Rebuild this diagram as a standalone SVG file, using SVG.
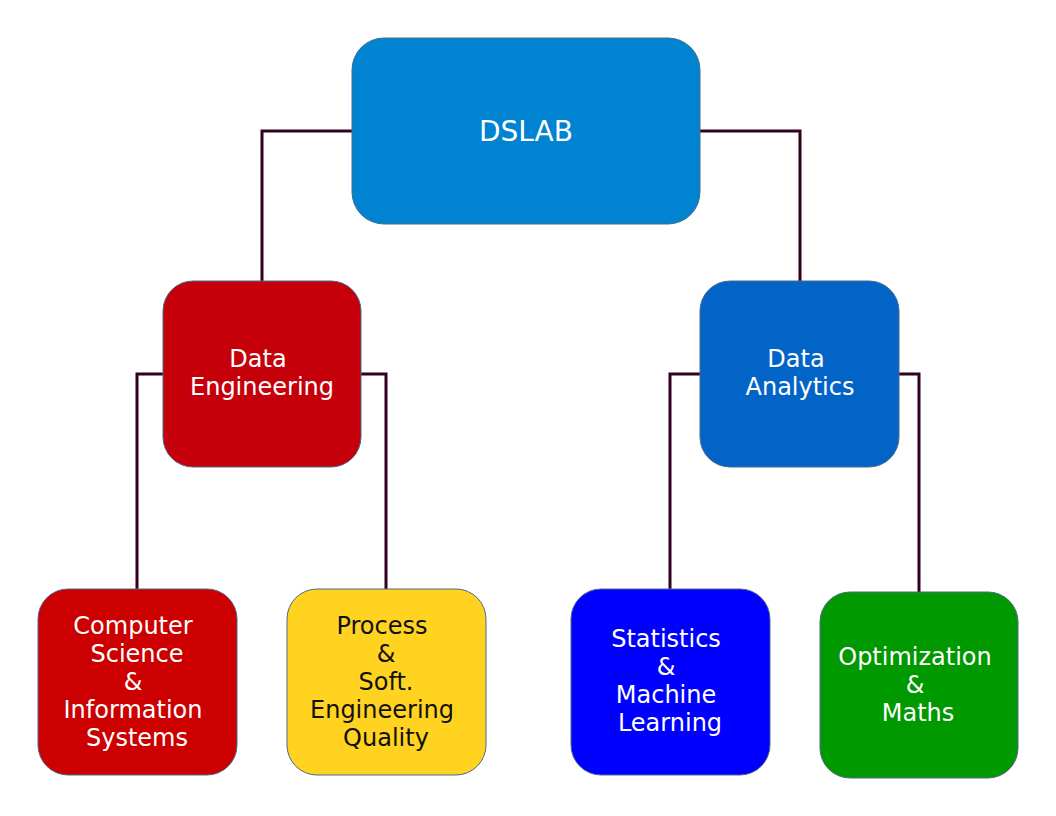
<svg xmlns="http://www.w3.org/2000/svg" width="1056" height="816" viewBox="0 0 1056 816">
<style>
.box{stroke:#4a6a8a;stroke-width:1}
.t{font-family:"DejaVu Sans",sans-serif;font-size:24px;text-anchor:middle;fill:#ffffff}
.dark{fill:#111111}
.c{fill:none;stroke:#330022;stroke-width:3}
</style>
<rect width="1056" height="816" fill="#ffffff"/>
<g id="connectors">
<polyline class="c" points="352,131 262,131 262,281"/>
<polyline class="c" points="700,131 800,131 800,281"/>
<polyline class="c" points="163,374 137,374 137,589"/>
<polyline class="c" points="361,374 386,374 386,589"/>
<polyline class="c" points="700,374 670,374 670,589"/>
<polyline class="c" points="899,374 919,374 919,592"/>
</g>
<g id="dslab">
<rect class="box" x="352" y="38" width="348" height="186" rx="32" fill="#0083d0"/>
<text class="t" x="526" y="141" style="font-size:28px">DSLAB</text>
</g>
<g id="data-engineering">
<rect class="box" x="163" y="281" width="198" height="186" rx="30" fill="#c5000b"/>
<text class="t" x="258" y="367">Data</text>
<text class="t" x="262" y="395">Engineering</text>
</g>
<g id="data-analytics">
<rect class="box" x="700" y="281" width="199" height="186" rx="30" fill="#0364c8"/>
<text class="t" x="796" y="367">Data</text>
<text class="t" x="800" y="395">Analytics</text>
</g>
<g id="computer-science">
<rect class="box" x="38" y="589" width="199" height="186" rx="30" fill="#cc0000"/>
<text class="t" x="133" y="634">Computer</text>
<text class="t" x="137" y="662">Science</text>
<text class="t" x="133" y="690">&amp;</text>
<text class="t" x="133" y="718">Information</text>
<text class="t" x="137" y="746">Systems</text>
</g>
<g id="process-quality">
<rect class="box" x="287" y="589" width="199" height="186" rx="30" fill="#ffd320"/>
<text class="t dark" x="382" y="634">Process</text>
<text class="t dark" x="386" y="662">&amp;</text>
<text class="t dark" x="386" y="690">Soft.</text>
<text class="t dark" x="382" y="718">Engineering</text>
<text class="t dark" x="386" y="746">Quality</text>
</g>
<g id="statistics-ml">
<rect class="box" x="571" y="589" width="199" height="186" rx="30" fill="#0000ff"/>
<text class="t" x="666" y="647">Statistics</text>
<text class="t" x="666" y="675">&amp;</text>
<text class="t" x="666" y="703">Machine</text>
<text class="t" x="670" y="731">Learning</text>
</g>
<g id="optimization-maths">
<rect class="box" x="820" y="592" width="198" height="186" rx="30" fill="#009900"/>
<text class="t" x="915" y="665">Optimization</text>
<text class="t" x="915" y="693">&amp;</text>
<text class="t" x="918" y="721">Maths</text>
</g>
</svg>
